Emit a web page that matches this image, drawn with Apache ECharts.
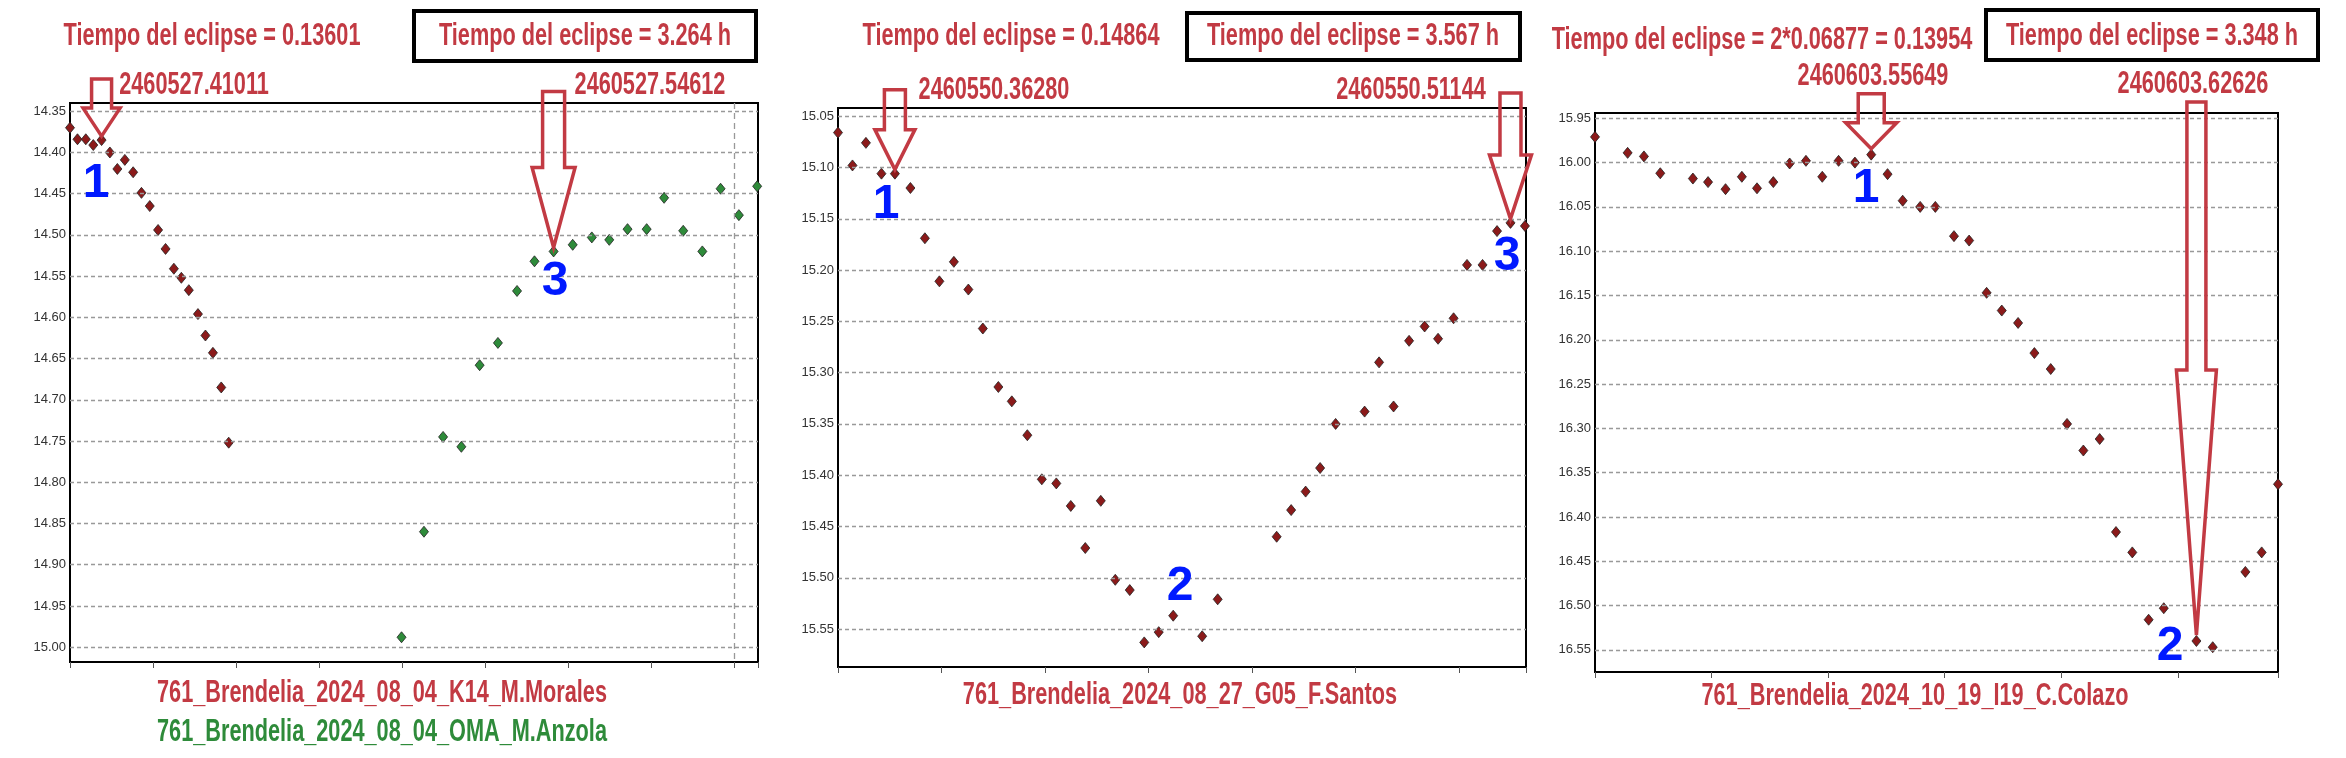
<!DOCTYPE html>
<html><head><meta charset="utf-8">
<script src="https://cdn.jsdelivr.net/npm/echarts@6/dist/echarts.min.js"></script>
<style>html,body{margin:0;padding:0;background:#fff}#c{width:2346px;height:758px}</style>
</head><body><div id="c"></div>
<script>
// Panel 1: 2024-08-04 (x in tick units, y magnitude)
const p1RedX = [0,0.09,0.19,0.28,0.38,0.48,0.57,0.66,0.76,0.86,0.96,1.06,1.15,1.25,1.34,1.43,1.54,1.63,1.72,1.82,1.91];
const p1RedY = [14.370,14.384,14.384,14.391,14.385,14.400,14.420,14.409,14.424,14.449,14.465,14.494,14.517,14.541,14.552,14.567,14.596,14.622,14.643,14.685,14.752];
const p1GreenX = [3.99,4.26,4.49,4.71,4.93,5.15,5.38,5.59,5.82,6.05,6.28,6.49,6.71,6.94,7.15,7.38,7.61,7.83,8.05,8.27];
const p1GreenY = [14.988,14.860,14.745,14.757,14.658,14.631,14.568,14.532,14.520,14.512,14.503,14.506,14.493,14.493,14.455,14.495,14.520,14.444,14.476,14.441];
// Panel 2: 2024-08-27
const p2X = [0,0.14,0.27,0.42,0.55,0.70,0.84,0.98,1.12,1.26,1.40,1.55,1.68,1.83,1.97,2.11,2.25,2.39,2.54,2.68,2.82,2.96,3.10,3.24,3.52,3.67,4.24,4.38,4.52,4.66,4.81,5.09,5.23,5.37,5.52,5.67,5.80,5.95,6.08,6.23,6.37,6.50,6.64];
const p2Y = [15.066,15.098,15.076,15.106,15.106,15.120,15.169,15.211,15.192,15.219,15.257,15.314,15.328,15.361,15.404,15.408,15.430,15.471,15.425,15.502,15.512,15.563,15.553,15.537,15.557,15.521,15.460,15.434,15.416,15.393,15.350,15.338,15.290,15.333,15.269,15.255,15.267,15.247,15.195,15.195,15.162,15.154,15.157];
// Panel 3: 2024-10-19
const p3X = [0,0.28,0.42,0.56,0.84,0.97,1.12,1.26,1.39,1.53,1.67,1.81,1.95,2.09,2.23,2.37,2.51,2.64,2.79,2.92,3.08,3.21,3.36,3.49,3.63,3.77,3.91,4.05,4.19,4.33,4.47,4.61,4.75,4.88,5.16,5.30,5.58,5.72,5.86];
const p3Y = [15.971,15.989,15.993,16.012,16.018,16.022,16.030,16.016,16.029,16.022,16.001,15.998,16.016,15.998,16.000,15.991,16.013,16.043,16.050,16.050,16.083,16.088,16.147,16.167,16.181,16.215,16.233,16.295,16.325,16.312,16.417,16.440,16.516,16.503,16.540,16.547,16.462,16.440,16.363];
const yTicks1 = ['14.35','14.40','14.45','14.50','14.55','14.60','14.65','14.70','14.75','14.80','14.85','14.90','14.95','15.00'];
const yTicks2 = ['15.05','15.10','15.15','15.20','15.25','15.30','15.35','15.40','15.45','15.50','15.55'];
const yTicks3 = ['15.95','16.00','16.05','16.10','16.15','16.20','16.25','16.30','16.35','16.40','16.45','16.50','16.55'];

const RED='#c23a43', DRED='#8b1a1a', GREEN='#2e8b3a', BLUE='#0019ff';
const zip=(a,b)=>a.map((v,i)=>[v,b[i]]);
const grids=[{left:70,width:688,top:103,height:559},{left:838,width:688,top:108,height:559},{left:1595,width:683,top:113,height:559}];
const xMax=[8.28,6.65,5.86];
const yMin=[14.340,15.042,15.944], yMax=[15.018,15.587,16.575];
const yT=[yTicks1,yTicks2,yTicks3];
const xAxis=grids.map((g,i)=>({gridIndex:i,type:'value',min:0,max:xMax[i],interval:1,
  axisLine:{show:true,onZero:false,lineStyle:{color:'#000',width:2}},
  axisTick:{show:true,length:6,lineStyle:{color:'#555'}},axisLabel:{show:false},splitLine:{show:false}}));
const yAxis=grids.map((g,i)=>({gridIndex:i,type:'value',inverse:true,min:yMin[i],max:yMax[i],
  axisLine:{show:true,lineStyle:{color:'#000',width:2}},axisTick:{show:false},axisLabel:{show:false},splitLine:{show:false}}));
const ml=i=>({silent:true,symbol:'none',
  label:{show:true,position:'start',formatter:p=>p.value.toFixed(2),color:'#333',fontSize:13,fontFamily:'Arial',distance:4},
  lineStyle:{color:'#999',type:[4,3],width:1.3},data:yT[i].map(t=>({yAxis:parseFloat(t)}))});
const sym=(c)=>({symbol:'diamond',symbolSize:[9,11],itemStyle:{color:c,borderColor:'#222',borderWidth:0.8,opacity:1}});
const series=[
 Object.assign({type:'scatter',xAxisIndex:0,yAxisIndex:0,data:zip(p1RedX,p1RedY),markLine:ml(0),z:3},sym(DRED)),
 Object.assign({type:'scatter',xAxisIndex:0,yAxisIndex:0,data:zip(p1GreenX,p1GreenY),z:3,
   markLine:{silent:true,symbol:'none',label:{show:false},lineStyle:{color:'#999',type:[6,4],width:1.3},data:[{xAxis:8}]}},sym(GREEN)),
 Object.assign({type:'scatter',xAxisIndex:1,yAxisIndex:1,data:zip(p2X,p2Y),markLine:ml(1),z:3},sym(DRED)),
 Object.assign({type:'scatter',xAxisIndex:2,yAxisIndex:2,data:zip(p3X,p3Y),markLine:ml(2),z:3},sym(DRED))
];
const chart=echarts.init(document.getElementById('c'));
chart.setOption({animation:false,
 grid:grids.map(g=>Object.assign({show:true,borderColor:'#000',borderWidth:2,backgroundColor:'#fff'},g)),
 xAxis,yAxis,series});

const FONT="'Liberation Sans','Arial',sans-serif";
const SX=0.70;
function txt(t,x,y,c,size){return {type:'text',x,y,scaleX:SX,z:10,style:{text:t,x:0,y:0,fill:c,font:'bold '+size+'px '+FONT,textAlign:'center',textVerticalAlign:'middle'}};}
function big(t,x,y){return {type:'text',x,y,z:10,style:{text:t,fill:BLUE,font:'bold 48px Arial, Liberation Sans',textAlign:'center',textVerticalAlign:'middle'}};}
function box(x,y,w,h){return {type:'rect',z:9,shape:{x,y,width:w,height:h},style:{fill:'#fff',stroke:'#000',lineWidth:4}};}
function arrow(gi,px,py,L,H,sw,hw,gap){
  const p=chart.convertToPixel({gridIndex:gi},[px,py]);const x=p[0],y=p[1]-gap;
  return {type:'polygon',z:8,shape:{points:[[x-sw/2,y-L],[x+sw/2,y-L],[x+sw/2,y-H],[x+hw/2,y-H],[x,y],[x-hw/2,y-H],[x-sw/2,y-H]]},
    style:{fill:'rgba(255,255,255,0)',stroke:RED,lineWidth:3.5,lineJoin:'miter'}};
}
const S=31;
chart.setOption({graphic:[
 txt('Tiempo del eclipse = 0.13601',212,36,RED,S),
 box(414,11,342,50), txt('Tiempo del eclipse = 3.264 h',585,36,RED,S),
 txt('2460527.41011',194,85,RED,S), txt('2460527.54612',650,85,RED,S),
 arrow(0,0.38,14.385,57,28,20,37,4), arrow(0,5.82,14.520,156,80,22,43,4),
 big('1',96,184), big('3',555,282),
 txt('761_Brendelia_2024_08_04_K14_M.Morales',382,693,RED,S),
 txt('761_Brendelia_2024_08_04_OMA_M.Anzola',382,732,GREEN,S),

 txt('Tiempo del eclipse = 0.14864',1011,36,RED,S),
 box(1187,13,333,47), txt('Tiempo del eclipse = 3.567 h',1353,36,RED,S),
 txt('2460550.36280',994,90,RED,S), txt('2460550.51144',1411,90,RED,S),
 arrow(1,0.55,15.106,80,40,21,40,4), arrow(1,6.50,15.154,126,64,21,42,4),
 big('1',886,205), big('3',1507,257), big('2',1180,587),
 txt('761_Brendelia_2024_08_27_G05_F.Santos',1180,695,RED,S),

 txt('Tiempo del eclipse = 2*0.06877 = 0.13954',1762,40,RED,S),
 box(1986,10,332,50), txt('Tiempo del eclipse = 3.348 h',2152,36,RED,S),
 txt('2460603.55649',1873,76,RED,S), txt('2460603.62626',2193,84,RED,S),
 arrow(2,2.37,15.991,55,26,26,51,6), arrow(2,5.16,16.540,533,265,19,40,6),
 big('1',1866,189), big('2',2170,647),
 txt('761_Brendelia_2024_10_19_I19_C.Colazo',1915,696,RED,S)
]});
</script></body></html>
